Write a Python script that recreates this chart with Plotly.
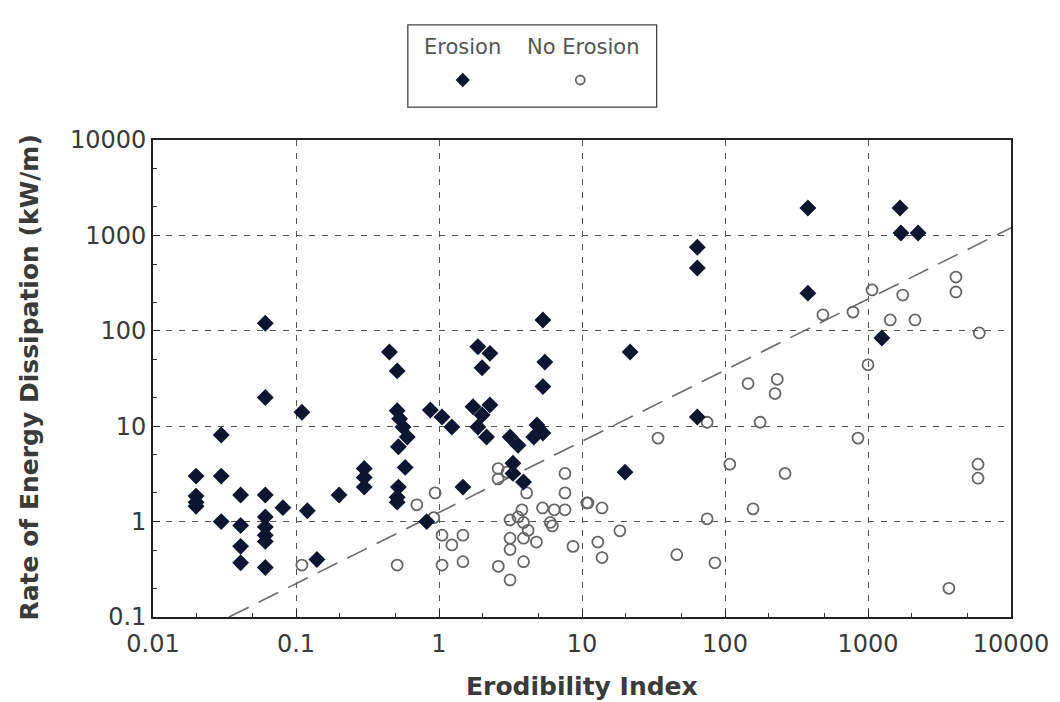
import plotly.graph_objects as go

# ---------------- data ----------------
erosion_x = [0.020, 0.020, 0.020, 0.020, 0.030, 0.030, 0.030,
             0.041, 0.041, 0.041, 0.041,
             0.061, 0.061, 0.061, 0.061, 0.061, 0.061, 0.061, 0.061,
             0.081, 0.11, 0.12, 0.14, 0.20,
             0.30, 0.30, 0.30,
             0.45, 0.51, 0.51, 0.53, 0.56, 0.60, 0.52, 0.58, 0.52, 0.51, 0.51,
             0.82, 0.87, 1.05, 1.23, 1.47,
             1.73, 2.27, 1.87, 2.0, 2.27, 2.0, 1.87, 2.15, 3.14,
             5.33, 5.5, 5.33, 5.33, 4.84, 4.6, 3.57, 3.29, 3.29, 3.9,
             20, 21.7, 64, 64, 64, 380, 380, 1250, 1700, 2240, 1675]
erosion_y = [3.0, 1.85, 1.6, 1.45, 8.1, 3.0, 1.0,
             1.9, 0.91, 0.55, 0.37,
             120, 20, 1.9, 1.12, 0.88, 0.72, 0.62, 0.33,
             1.4, 14, 1.3, 0.4, 1.9,
             3.6, 2.9, 2.3,
             60, 38, 14.5, 12.0, 9.8, 7.7, 6.1, 3.7, 2.3, 1.8, 1.6, 1.0,
             14.8, 12.5, 9.8, 2.3, 16,
             58, 68, 41, 16.7, 13.1, 9.8, 7.7, 7.7, 8.5,
             47, 26, 130, 10.3, 7.7, 6.3, 4.1, 3.2, 2.6, 3.3,
             60, 12.5, 750, 455, 248, 1940, 84, 1060, 1060, 1940, 350]

no_erosion_x = [0.11, 0.51, 0.70, 0.94, 0.92, 1.05, 1.23, 1.47, 1.05, 1.47,
                2.59, 2.59, 3.0, 4.1, 3.14, 3.14, 3.14,
                3.8, 3.57, 3.9, 4.2, 3.9, 4.8, 3.9, 3.14, 2.6,
                5.3, 6.4, 7.6, 6.0, 6.2, 7.6, 7.6, 8.65,
                10.8, 11.0, 13.8, 12.9, 13.8, 18.4, 34, 46,
                75, 75, 85, 108, 145, 157, 176, 224, 232, 263,
                484, 785, 851, 1000, 1067, 1430, 1750, 2130,
                3680, 4120, 4120, 6000, 5880, 5880]
no_erosion_y = [0.35, 0.35, 1.5, 2.0, 1.1, 0.72, 0.57, 0.72, 0.35, 0.38,
                3.6, 2.8, 3.3, 2.0, 1.04, 0.67, 0.51,
                1.33, 1.12, 0.98, 0.81, 0.67, 0.61, 0.38, 0.245, 0.34,
                1.39, 1.33, 1.33, 0.98, 0.90, 3.2, 2.0, 0.55,
                1.57, 1.57, 1.39, 0.61, 0.42, 0.80, 7.5, 0.45,
                11, 1.07, 0.37, 4.0, 28, 1.36, 11, 22, 31, 3.2,
                147, 157, 7.5, 44, 268, 130, 237, 130,
                0.20, 366, 255, 95, 4.0, 2.85]

threshold_x = [0.034, 10000]
threshold_y = [0.1, 1200]

tick_vals_x = [0.01, 0.1, 1, 10, 100, 1000, 10000]
tick_text_x = ["0.01", "0.1", "1", "10", "100", "1000", "10000"]
tick_vals_y = [0.1, 1, 10, 100, 1000, 10000]
tick_text_y = ["0.1", "1", "10", "100", "1000", "10000"]

series_names = ["Erosion", "No Erosion"]
x_title = "Erodibility Index"
y_title = "Rate of Energy Dissipation (kW/m)"

# ---------------- styles ----------------
FONT = "DejaVu Sans"
DIAMOND_COLOR = "#0c1630"
CIRCLE_COLOR = "#666666"
GRID_COLOR = "#555555"
TEXT_COLOR = "#3a3a3a"

fig = go.Figure()

fig.add_trace(go.Scatter(
    x=threshold_x, y=threshold_y, mode="lines",
    line=dict(color="#6a6a6a", width=1.6, dash="22px,11px"),
    showlegend=False, hoverinfo="skip"))

fig.add_trace(go.Scatter(
    x=no_erosion_x, y=no_erosion_y, mode="markers", name=series_names[1],
    marker=dict(symbol="circle-open", size=11, color=CIRCLE_COLOR,
                line=dict(width=1.8, color=CIRCLE_COLOR)),
    showlegend=False))

fig.add_trace(go.Scatter(
    x=erosion_x, y=erosion_y, mode="markers", name=series_names[0],
    marker=dict(symbol="diamond", size=13, color=DIAMOND_COLOR,
                line=dict(width=0)),
    showlegend=False))

# custom legend markers (on an overlay axis whose units equal paper units)
fig.add_trace(go.Scatter(
    x=[0.361], y=[0.8995], mode="markers", xaxis="x2", yaxis="y2",
    marker=dict(symbol="diamond", size=11, color=DIAMOND_COLOR),
    showlegend=False, hoverinfo="skip"))
fig.add_trace(go.Scatter(
    x=[0.498], y=[0.8995], mode="markers", xaxis="x2", yaxis="y2",
    marker=dict(symbol="circle-open", size=9, color=CIRCLE_COLOR,
                line=dict(width=1.8, color=CIRCLE_COLOR)),
    showlegend=False, hoverinfo="skip"))

axis_common = dict(
    type="log", automargin=False,
    showline=True, linecolor="#222222", linewidth=1.6, mirror=True,
    showgrid=True, gridcolor=GRID_COLOR, gridwidth=1.3, griddash="6px,7px",
    ticks="inside", ticklen=7, tickcolor="#222222", tickwidth=1.3,
    minor=dict(ticks="inside", ticklen=4, tickcolor="#333333", tickwidth=1, showgrid=False),
    zeroline=False,
    tickfont=dict(family=FONT, size=24, color=TEXT_COLOR),
)

fig.update_layout(
    width=1060, height=702,
    margin=dict(l=153, r=49, t=20, b=85),
    paper_bgcolor="white", plot_bgcolor="white",
    xaxis=dict(**axis_common, range=[-2, 4], domain=[0, 1],
               tickvals=tick_vals_x, ticktext=tick_text_x, ticklabelstandoff=4),
    yaxis=dict(**axis_common, range=[-1, 4], domain=[0, 0.799],
               tickvals=tick_vals_y, ticktext=tick_text_y),
    xaxis2=dict(domain=[0, 1], range=[0, 1], visible=False, anchor="y2", fixedrange=True),
    yaxis2=dict(domain=[0.85, 1.0], range=[0.85, 1.0], visible=False, anchor="x2", fixedrange=True),
    shapes=[dict(type="rect", xref="paper", yref="paper",
                 x0=0.297, x1=0.587, y0=0.854, y1=0.992,
                 line=dict(color="#444444", width=1.3), fillcolor="rgba(0,0,0,0)")],
    annotations=[
        dict(text=series_names[0], x=0.361, y=0.955, xref="paper", yref="paper",
             xanchor="center", yanchor="middle",
             showarrow=False, font=dict(family=FONT, size=21, color="#555555")),
        dict(text=series_names[1], x=0.501, y=0.955, xref="paper", yref="paper",
             xanchor="center", yanchor="middle",
             showarrow=False, font=dict(family=FONT, size=21, color="#555555")),
        dict(text="<b>" + x_title + "</b>", x=0.5, y=-0.116, xref="paper", yref="paper",
             xanchor="center", yanchor="middle", showarrow=False,
             font=dict(family=FONT, size=25, color=TEXT_COLOR)),
        dict(text="<b>" + y_title + "</b>", x=-0.1434, y=0.401, xref="paper", yref="paper",
             xanchor="center", yanchor="middle", textangle=-90, showarrow=False,
             font=dict(family=FONT, size=25, color=TEXT_COLOR)),
    ],
)

fig.write_html("out.html")
